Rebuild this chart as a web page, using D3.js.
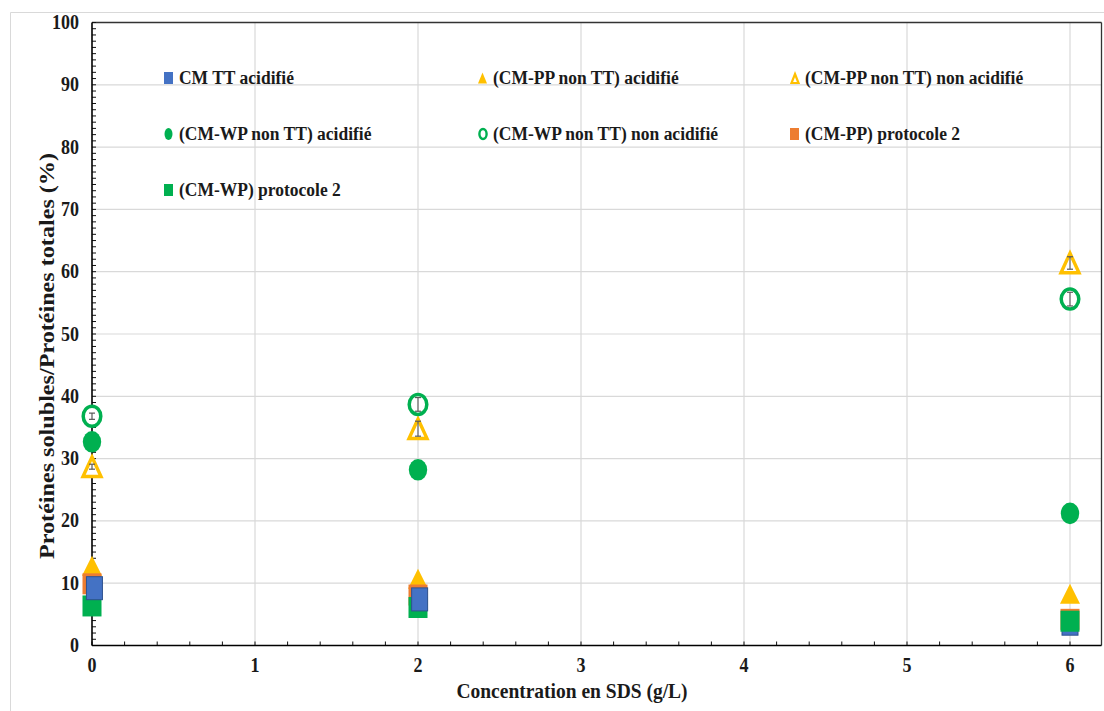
<!DOCTYPE html>
<html><head><meta charset="utf-8">
<script src="https://cdn.jsdelivr.net/npm/d3@7"></script>
<style>
html,body{margin:0;padding:0;background:#fff;}
svg text{font-family:"Liberation Serif","Times New Roman",serif;font-weight:bold;fill:#1a1a1a;}
</style></head>
<body>
<svg id="chart" width="1104" height="711"></svg>
<script>
// ---- data ----
const xValues = [0, 2, 6];
const cmTTx = [0.015, 2.01, 6];
const cmTT = [9.2, 7.4, 3.5];            // CM TT acidifié
const ppAcid = [12.8, 10.7, 8.3];        // (CM-PP non TT) acidifié
const ppNonAcid = [28.7, 34.8, 61.4];    // (CM-PP non TT) non acidifié
const ppNonAcidErr = [0.4, 1.2, 1.0];
const wpAcid = [32.7, 28.2, 21.2];       // (CM-WP non TT) acidifié
const wpNonAcid = [36.8, 38.7, 55.6];    // (CM-WP non TT) non acidifié
const wpNonAcidErr = [0.5, 1.1, 1.1];
const pp2 = [9.9, 8.1, 4.2];             // (CM-PP) protocole 2
const wp2 = [6.35, 6.1, 3.9];            // (CM-WP) protocole 2
const xTicks = [0, 1, 2, 3, 4, 5, 6];
const yTicks = [0, 10, 20, 30, 40, 50, 60, 70, 80, 90, 100];
const legendLabels = ["CM TT acidifié", "(CM-PP non TT) acidifié", "(CM-PP non TT) non acidifié",
  "(CM-WP non TT) acidifié", "(CM-WP non TT) non acidifié", "(CM-PP) protocole 2", "(CM-WP) protocole 2"];
const xTitle = "Concentration en SDS (g/L)";
const yTitle = "Protéines solubles/Protéines totales (%)";

const C = {blue:"#4472C4", orange:"#ED7D31", yellow:"#FFC000", green:"#00B050"};

const svg = d3.select("#chart");
const L = 92, R = 1101.5, T = 22.5, B = 645.5;
const x = d3.scaleLinear().domain([0, 6]).range([L, 1070]);
const y = d3.scaleLinear().domain([0, 100]).range([B, T]);

// outer light border
svg.append("line").attr("x1",10.5).attr("x2",1104).attr("y1",12.5).attr("y2",12.5).attr("stroke","#d9d9d9");
svg.append("line").attr("x1",10.5).attr("x2",10.5).attr("y1",12.5).attr("y2",711).attr("stroke","#d9d9d9");

// gridlines
svg.append("g").selectAll("line").data(yTicks.filter(d=>d>0 && d<100)).join("line")
  .attr("x1",L).attr("x2",R).attr("y1",d=>y(d)).attr("y2",d=>y(d))
  .attr("stroke","#d9d9d9").attr("stroke-width",1.2);
svg.append("g").selectAll("line").data(xTicks.filter(d=>d>0)).join("line")
  .attr("x1",d=>x(d)).attr("x2",d=>x(d)).attr("y1",T).attr("y2",B)
  .attr("stroke","#d9d9d9").attr("stroke-width",1.2);

// frame
svg.append("line").attr("x1",L).attr("x2",R).attr("y1",T).attr("y2",T).attr("stroke","#333").attr("stroke-width",1.3);
svg.append("line").attr("x1",R).attr("x2",R).attr("y1",T).attr("y2",B).attr("stroke","#333").attr("stroke-width",1.3);

// minor ticks (inside)
const yMinor = d3.range(0, 101, 1);
svg.append("g").selectAll("line").data(yMinor).join("line")
  .attr("x1",L).attr("x2",L+4).attr("y1",d=>y(d)).attr("y2",d=>y(d)).attr("stroke","#111").attr("stroke-width",1);
const xMinor = d3.range(0, 31, 1).map(i=>i*0.2);
svg.append("g").selectAll("line").data(xMinor).join("line")
  .attr("x1",d=>x(d)).attr("x2",d=>x(d)).attr("y1",B).attr("y2",B-4).attr("stroke","#111").attr("stroke-width",1);

// axes lines
svg.append("line").attr("x1",L).attr("x2",L).attr("y1",T).attr("y2",B).attr("stroke","#000").attr("stroke-width",1.6);
svg.append("line").attr("x1",L).attr("x2",R).attr("y1",B).attr("y2",B).attr("stroke","#000").attr("stroke-width",1.6);

// tick labels
svg.append("g").selectAll("text").data(yTicks).join("text")
  .attr("transform",d=>`translate(79,${y(d)+6.5}) scale(1,1.14)`).attr("text-anchor","end").attr("font-size",18).text(d=>d);
svg.append("g").selectAll("text").data(xTicks).join("text")
  .attr("transform",d=>`translate(${x(d)},672) scale(1,1.14)`).attr("text-anchor","middle").attr("font-size",18).text(d=>d);

// titles
svg.append("text").attr("transform",`translate(${(457+687)/2},698) scale(1,1.12)`)
  .attr("text-anchor","middle").attr("font-size",19.5).text(xTitle);
svg.append("text").attr("transform","translate(54,356) rotate(-90)")
  .attr("text-anchor","middle").attr("font-size",21.5)
  .attr("textLength",406).attr("lengthAdjust","spacingAndGlyphs").text(yTitle);

// marker helpers
function tri(w,h){ return `M0,${-h/2}L${w/2},${h/2}L${-w/2},${h/2}Z`; }
const plot = svg.append("g");
function pts(xs, ys){ return ys.map((v,i)=>({x:xs[i], y:v, i})); }

function errBars(xs, ys, es){
  const g = plot.append("g").attr("stroke","#595959").attr("stroke-width",1.2);
  pts(xs, ys).forEach((p)=>{
    const e = es[p.i]; const cx = x(p.x);
    g.append("line").attr("x1",cx).attr("x2",cx).attr("y1",y(p.y+e)).attr("y2",y(p.y-e));
    g.append("line").attr("x1",cx-3).attr("x2",cx+3).attr("y1",y(p.y+e)).attr("y2",y(p.y+e));
    g.append("line").attr("x1",cx-3).attr("x2",cx+3).attr("y1",y(p.y-e)).attr("y2",y(p.y-e));
  });
}
function squares(data, w, h, fill, stroke){
  const s = plot.append("g").selectAll("rect").data(data).join("rect")
    .attr("x",d=>x(d.x)-w/2).attr("y",d=>y(d.y)-h/2).attr("width",w).attr("height",h).attr("fill",fill);
  if (stroke) s.attr("stroke",stroke).attr("stroke-width",1);
}

// filled triangles
plot.append("g").selectAll("path").data(pts(xValues, ppAcid)).join("path")
  .attr("d",tri(20,20)).attr("transform",d=>`translate(${x(d.x)},${y(d.y)})`).attr("fill",C.yellow);
// orange squares
squares(pts(xValues, pp2), 19, 21, C.orange);
// green squares (the one at the highest concentration is drawn over the blue one)
const wp2Pts = pts(xValues, wp2);
squares(wp2Pts.filter(d=>d.i<2), 19, 21, C.green);
// blue squares
squares(pts(cmTTx, cmTT), 16, 23, C.blue, "#2F528F");
squares(wp2Pts.filter(d=>d.i===2), 19, 21, C.green);

// filled circles
plot.append("g").selectAll("ellipse").data(pts(xValues, wpAcid)).join("ellipse")
  .attr("cx",d=>x(d.x)).attr("cy",d=>y(d.y)).attr("rx",9.2).attr("ry",10.8).attr("fill",C.green);
// open triangles
plot.append("g").selectAll("path").data(pts(xValues, ppNonAcid)).join("path")
  .attr("d",tri(18,19.5)).attr("transform",d=>`translate(${x(d.x)},${y(d.y)})`)
  .attr("fill","#fff").attr("stroke",C.yellow).attr("stroke-width",3.4).attr("stroke-linejoin","miter");
errBars(xValues, ppNonAcid, ppNonAcidErr);
// open circles
plot.append("g").selectAll("ellipse").data(pts(xValues, wpNonAcid)).join("ellipse")
  .attr("cx",d=>x(d.x)).attr("cy",d=>y(d.y)).attr("rx",8.8).attr("ry",10)
  .attr("fill","#fff").attr("stroke",C.green).attr("stroke-width",3.5);
errBars(xValues, wpNonAcid, wpNonAcidErr);

// legend
const legCols = [164, 478, 790];
const legRows = [78, 134, 190];
const legShapes = [
  {t:"sq", c:C.blue}, {t:"tri", c:C.yellow}, {t:"otri", c:C.yellow},
  {t:"circ", c:C.green}, {t:"ocirc", c:C.green}, {t:"sq", c:C.orange}, {t:"sq", c:C.green}];
const leg = svg.append("g");
legendLabels.forEach((lab, k)=>{
  const cx = legCols[k%3], cy = legRows[Math.floor(k/3)];
  const g = leg.append("g").attr("transform",`translate(${cx},${cy})`);
  const s = legShapes[k];
  if (s.t==="sq") g.append("rect").attr("x",0).attr("y",-6).attr("width",9).attr("height",12).attr("fill",s.c);
  if (s.t==="tri") g.append("path").attr("d",tri(9,11)).attr("transform","translate(4.5,0)").attr("fill",s.c);
  if (s.t==="otri") g.append("path").attr("d",tri(7,9)).attr("transform","translate(5,0.5)").attr("fill","none").attr("stroke",s.c).attr("stroke-width",2.2);
  if (s.t==="circ") g.append("ellipse").attr("cx",4.5).attr("cy",0).attr("rx",4).attr("ry",6).attr("fill",s.c);
  if (s.t==="ocirc") g.append("ellipse").attr("cx",5).attr("cy",0).attr("rx",3.6).attr("ry",5).attr("fill","none").attr("stroke",s.c).attr("stroke-width",2.4);
  g.append("text").attr("transform","translate(15,6) scale(1,1.1)").attr("font-size",17.5).text(lab);
});
</script>
</body></html>
